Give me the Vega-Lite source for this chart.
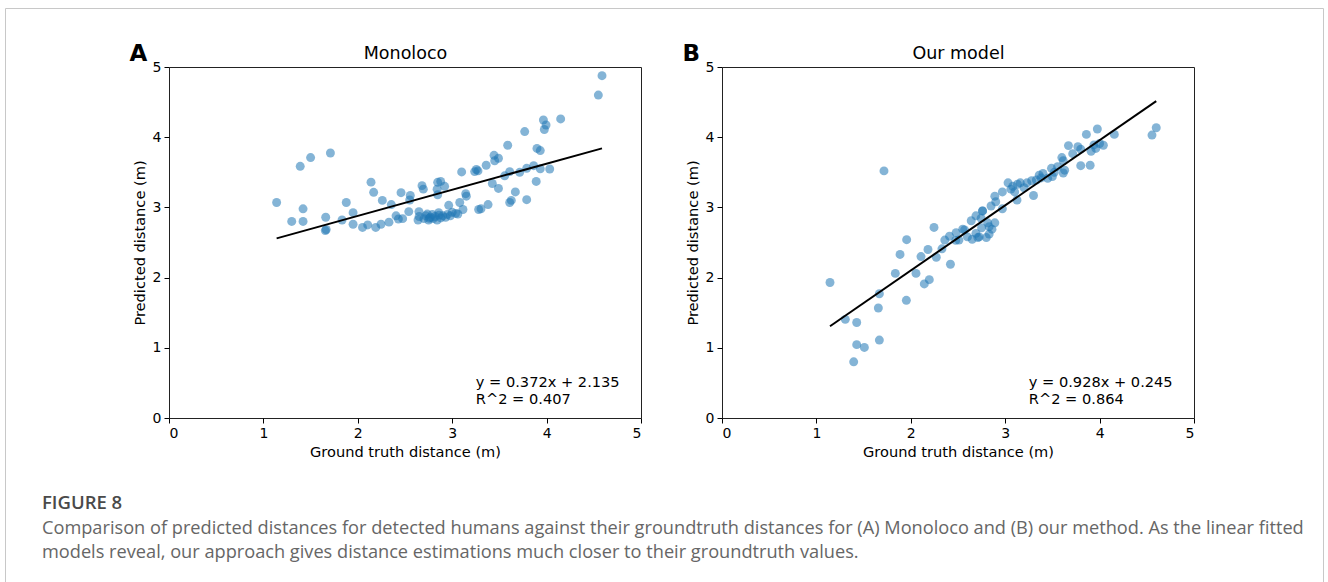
{
  "$schema": "https://vega.github.io/schema/vega-lite/v6.json",
  "background": "white",
  "padding": {"left": 4, "top": 7, "right": 0, "bottom": 0},
  "config": {
    "font": "DejaVu Sans",
    "view": {"stroke": "#222", "strokeWidth": 1},
    "axis": {
      "grid": false, "domain": false, "tickColor": "#000", "tickSize": 5, "tickWidth": 1,
      "labelFont": "DejaVu Sans", "labelFontSize": 14, "labelColor": "#000", "labelPadding": 3,
      "titleFont": "DejaVu Sans", "titleFontSize": 14.6, "titleFontWeight": "normal", "titleColor": "#000"
    }
  },
  "datasets": {
    "mono": [
      {"gt":1.14,"pred":3.07},{"gt":1.39,"pred":3.585},{"gt":1.50,"pred":3.71},{"gt":1.71,"pred":3.775},{"gt":1.30,"pred":2.80},
      {"gt":1.42,"pred":2.80},{"gt":1.42,"pred":2.98},{"gt":1.66,"pred":2.86},{"gt":1.656,"pred":2.67},{"gt":1.665,"pred":2.685},
      {"gt":1.878,"pred":3.07},{"gt":1.95,"pred":2.925},{"gt":1.833,"pred":2.82},{"gt":1.95,"pred":2.76},{"gt":2.05,"pred":2.715},
      {"gt":2.105,"pred":2.75},{"gt":2.14,"pred":3.36},{"gt":2.168,"pred":3.215},{"gt":2.19,"pred":2.715},{"gt":2.246,"pred":2.76},
      {"gt":2.26,"pred":3.10},{"gt":2.33,"pred":2.79},{"gt":2.355,"pred":3.04},{"gt":2.405,"pred":2.88},{"gt":2.458,"pred":3.21},
      {"gt":2.43,"pred":2.835},{"gt":2.475,"pred":2.84},{"gt":2.54,"pred":2.94},{"gt":2.556,"pred":3.17},{"gt":2.55,"pred":3.105},
      {"gt":2.638,"pred":2.82},{"gt":2.648,"pred":2.94},{"gt":2.68,"pred":3.31},{"gt":2.694,"pred":3.26},{"gt":2.736,"pred":2.905},
      {"gt":2.758,"pred":2.845},{"gt":2.846,"pred":3.357},{"gt":2.84,"pred":3.26},{"gt":2.846,"pred":3.18},{"gt":2.878,"pred":3.37},
      {"gt":2.92,"pred":3.30},{"gt":2.857,"pred":2.925},{"gt":2.963,"pred":3.03},
      {"gt":2.70,"pred":2.84},{"gt":2.72,"pred":2.88},{"gt":2.75,"pred":2.82},{"gt":2.77,"pred":2.86},{"gt":2.79,"pred":2.90},
      {"gt":2.80,"pred":2.84},{"gt":2.82,"pred":2.87},{"gt":2.84,"pred":2.82},{"gt":2.86,"pred":2.89},{"gt":2.88,"pred":2.85},
      {"gt":2.90,"pred":2.88},{"gt":2.93,"pred":2.86},{"gt":2.95,"pred":2.90},{"gt":2.98,"pred":2.88},{"gt":3.00,"pred":2.93},
      {"gt":2.65,"pred":2.87},
      {"gt":4.548,"pred":4.60},{"gt":4.587,"pred":4.876},{"gt":4.149,"pred":4.26},{"gt":3.966,"pred":4.245},{"gt":3.994,"pred":4.174},
      {"gt":3.976,"pred":4.11},{"gt":3.768,"pred":4.08},{"gt":3.588,"pred":3.885},{"gt":3.898,"pred":3.84},{"gt":3.933,"pred":3.81},
      {"gt":3.443,"pred":3.742},{"gt":3.49,"pred":3.70},{"gt":3.45,"pred":3.665},{"gt":3.36,"pred":3.60},{"gt":3.256,"pred":3.54},
      {"gt":3.273,"pred":3.52},{"gt":3.238,"pred":3.51},{"gt":3.10,"pred":3.505},{"gt":3.609,"pred":3.51},{"gt":3.715,"pred":3.50},
      {"gt":3.789,"pred":3.557},{"gt":3.863,"pred":3.594},{"gt":3.933,"pred":3.55},{"gt":4.033,"pred":3.547},{"gt":3.556,"pred":3.45},
      {"gt":3.425,"pred":3.34},{"gt":3.49,"pred":3.27},{"gt":3.89,"pred":3.37},{"gt":3.669,"pred":3.22},{"gt":3.626,"pred":3.10},
      {"gt":3.609,"pred":3.07},{"gt":3.789,"pred":3.11},{"gt":3.38,"pred":3.04},{"gt":3.28,"pred":2.97},{"gt":3.305,"pred":2.98},
      {"gt":3.143,"pred":3.195},{"gt":3.15,"pred":3.16},{"gt":3.08,"pred":3.07},{"gt":3.114,"pred":2.97},{"gt":3.037,"pred":2.915},
      {"gt":3.06,"pred":2.906}
    ],
    "ours": [
      {"gt":1.144,"pred":1.93},{"gt":1.306,"pred":1.405},{"gt":1.427,"pred":1.36},{"gt":1.427,"pred":1.045},{"gt":1.508,"pred":1.005},
      {"gt":1.395,"pred":0.80},{"gt":1.667,"pred":1.11},{"gt":1.656,"pred":1.567},{"gt":1.667,"pred":1.77},{"gt":1.836,"pred":2.06},
      {"gt":1.953,"pred":1.676},{"gt":1.886,"pred":2.33},{"gt":1.956,"pred":2.54},{"gt":2.055,"pred":2.06},{"gt":2.108,"pred":2.30},
      {"gt":2.143,"pred":1.91},{"gt":2.196,"pred":1.97},{"gt":2.182,"pred":2.40},{"gt":2.246,"pred":2.715},{"gt":2.27,"pred":2.29},
      {"gt":2.33,"pred":2.41},{"gt":2.42,"pred":2.19},{"gt":2.36,"pred":2.535},{"gt":2.41,"pred":2.59},{"gt":2.48,"pred":2.64},
      {"gt":2.476,"pred":2.53},{"gt":1.716,"pred":3.52},
      {"gt":2.55,"pred":2.69},{"gt":2.51,"pred":2.535},{"gt":2.65,"pred":2.545},{"gt":2.64,"pred":2.81},{"gt":2.69,"pred":2.88},
      {"gt":2.745,"pred":2.845},{"gt":2.76,"pred":2.95},{"gt":2.75,"pred":2.71},{"gt":2.725,"pred":2.58},{"gt":2.69,"pred":2.63},
      {"gt":2.80,"pred":2.57},{"gt":2.83,"pred":2.62},{"gt":2.86,"pred":2.69},{"gt":2.815,"pred":2.78},{"gt":2.89,"pred":2.78},
      {"gt":2.85,"pred":3.02},{"gt":2.90,"pred":3.08},{"gt":2.89,"pred":3.16},{"gt":2.83,"pred":2.725},{"gt":2.57,"pred":2.68},
      {"gt":2.60,"pred":2.58},{"gt":2.71,"pred":2.57},
      {"gt":4.60,"pred":4.135},{"gt":4.555,"pred":4.03},{"gt":3.976,"pred":4.117},{"gt":3.86,"pred":4.04},{"gt":4.156,"pred":4.04},
      {"gt":3.67,"pred":3.88},{"gt":3.77,"pred":3.865},{"gt":3.80,"pred":3.83},{"gt":3.94,"pred":3.89},{"gt":4.00,"pred":3.91},
      {"gt":4.04,"pred":3.885},{"gt":3.96,"pred":3.84},{"gt":3.91,"pred":3.80},{"gt":3.715,"pred":3.765},{"gt":3.80,"pred":3.594},
      {"gt":3.90,"pred":3.60},{"gt":3.60,"pred":3.71},{"gt":3.615,"pred":3.665},{"gt":3.63,"pred":3.53},{"gt":3.615,"pred":3.49},
      {"gt":3.555,"pred":3.58},{"gt":3.49,"pred":3.557},{"gt":3.50,"pred":3.44},{"gt":3.45,"pred":3.414},{"gt":3.40,"pred":3.485},
      {"gt":3.36,"pred":3.46},{"gt":3.33,"pred":3.39},{"gt":3.28,"pred":3.38},{"gt":3.30,"pred":3.17},{"gt":3.23,"pred":3.35},
      {"gt":3.16,"pred":3.35},{"gt":3.13,"pred":3.33},{"gt":3.03,"pred":3.35},{"gt":3.06,"pred":3.26},{"gt":3.08,"pred":3.30},
      {"gt":3.125,"pred":3.105},{"gt":2.97,"pred":3.22},{"gt":2.97,"pred":2.98},{"gt":2.76,"pred":2.95},{"gt":3.20,"pred":3.28},
      {"gt":3.38,"pred":3.42},{"gt":3.10,"pred":3.22},{"gt":3.52,"pred":3.50}
    ],
    "fitA": [{"gt":1.14,"pred":2.559},{"gt":4.587,"pred":3.841}],
    "fitB": [{"gt":1.144,"pred":1.307},{"gt":4.60,"pred":4.514}],
    "eqA": [{"gt":3.25,"pred":0.44,"label":"y = 0.372x + 2.135"},{"gt":3.25,"pred":0.20,"label":"R^2 = 0.407"}],
    "eqB": [{"gt":3.25,"pred":0.44,"label":"y = 0.928x + 0.245"},{"gt":3.25,"pred":0.20,"label":"R^2 = 0.864"}]
  },
  "vconcat": [
    {
      "width": 1318, "height": 574,
      "view": {"stroke": "#c8c8c8", "strokeWidth": 1},
      "data": {"values": [{}]},
      "mark": {"type": "point", "opacity": 0},
      "encoding": {},
      "title": {
        "text": "FIGURE 8",
        "subtitle": [
          "Comparison of predicted distances for detected humans against their groundtruth distances for (A) Monoloco and (B) our method. As the linear fitted",
          "models reveal, our approach gives distance estimations much closer to their groundtruth values."
        ],
        "orient": "bottom", "anchor": "start", "frame": "group", "offset": -88.4, "dx": 37,
        "font": "Open Sans", "fontSize": 18.5, "fontWeight": 600, "color": "#4a4a4a",
        "subtitleFont": "Open Sans", "subtitleFontSize": 18.2, "subtitleColor": "#666666",
        "subtitleLineHeight": 24, "subtitlePadding": 7.7
      }
    },
    {
      "hconcat": [
        {
          "width": 83.5, "height": 10,
          "view": {"stroke": null},
          "data": {"values": [{}]},
          "mark": {"type": "point", "opacity": 0},
          "encoding": {}
        },
        {
          "width": 472, "height": 351,
          "title": {"text": "A", "anchor": "start", "frame": "bounds", "fontSize": 23, "fontWeight": "bold", "color": "#000", "dx": -3.2, "dy": 21, "offset": 0},
          "layer": [
            {
              "data": {"name": "mono"},
              "mark": {"type": "circle", "size": 80, "color": "#1f77b4", "opacity": 0.55},
              "encoding": {
                "x": {"field": "gt", "type": "quantitative", "scale": {"domain": [0, 5], "nice": false}, "axis": {"values": [0,1,2,3,4,5], "title": "Ground truth distance (m)", "titlePadding": 4}},
                "y": {"field": "pred", "type": "quantitative", "scale": {"domain": [0, 5], "nice": false}, "axis": {"values": [0,1,2,3,4,5], "title": "Predicted distance (m)", "titlePadding": 4.5}}
              }
            },
            {
              "data": {"name": "fitA"},
              "mark": {"type": "line", "color": "#000", "strokeWidth": 2},
              "encoding": {
                "x": {"field": "gt", "type": "quantitative", "scale": {"domain": [0, 5], "nice": false}, "axis": {"orient": "top", "labels": false, "ticks": false, "domain": false, "title": "Monoloco", "titleFontSize": 17.5, "titlePadding": 4.5}},
                "y": {"field": "pred", "type": "quantitative", "scale": {"domain": [0, 5], "nice": false}, "axis": null}
              }
            },
            {
              "data": {"name": "eqA"},
              "mark": {"type": "text", "align": "left", "baseline": "alphabetic", "fontSize": 14.6, "color": "#000"},
              "encoding": {
                "x": {"field": "gt", "type": "quantitative", "scale": {"domain": [0, 5], "nice": false}, "axis": null},
                "y": {"field": "pred", "type": "quantitative", "scale": {"domain": [0, 5], "nice": false}, "axis": null},
                "text": {"field": "label"}
              }
            }
          ],
          "resolve": {"axis": {"x": "independent", "y": "independent"}}
        },
        {
          "width": 472, "height": 351,
          "title": {"text": "B", "anchor": "start", "frame": "bounds", "fontSize": 23, "fontWeight": "bold", "color": "#000", "dx": -3.2, "dy": 21, "offset": 0},
          "layer": [
            {
              "data": {"name": "ours"},
              "mark": {"type": "circle", "size": 80, "color": "#1f77b4", "opacity": 0.55},
              "encoding": {
                "x": {"field": "gt", "type": "quantitative", "scale": {"domain": [0, 5], "nice": false}, "axis": {"values": [0,1,2,3,4,5], "title": "Ground truth distance (m)", "titlePadding": 4}},
                "y": {"field": "pred", "type": "quantitative", "scale": {"domain": [0, 5], "nice": false}, "axis": {"values": [0,1,2,3,4,5], "title": "Predicted distance (m)", "titlePadding": 4.5}}
              }
            },
            {
              "data": {"name": "fitB"},
              "mark": {"type": "line", "color": "#000", "strokeWidth": 2},
              "encoding": {
                "x": {"field": "gt", "type": "quantitative", "scale": {"domain": [0, 5], "nice": false}, "axis": {"orient": "top", "labels": false, "ticks": false, "domain": false, "title": "Our model", "titleFontSize": 17.5, "titlePadding": 4.5}},
                "y": {"field": "pred", "type": "quantitative", "scale": {"domain": [0, 5], "nice": false}, "axis": null}
              }
            },
            {
              "data": {"name": "eqB"},
              "mark": {"type": "text", "align": "left", "baseline": "alphabetic", "fontSize": 14.6, "color": "#000"},
              "encoding": {
                "x": {"field": "gt", "type": "quantitative", "scale": {"domain": [0, 5], "nice": false}, "axis": null},
                "y": {"field": "pred", "type": "quantitative", "scale": {"domain": [0, 5], "nice": false}, "axis": null},
                "text": {"field": "label"}
              }
            }
          ],
          "resolve": {"axis": {"x": "independent", "y": "independent"}}
        }
      ],
      "spacing": 39,
      "align": "none"
    }
  ],
  "spacing": -541,
  "align": "none"
}
